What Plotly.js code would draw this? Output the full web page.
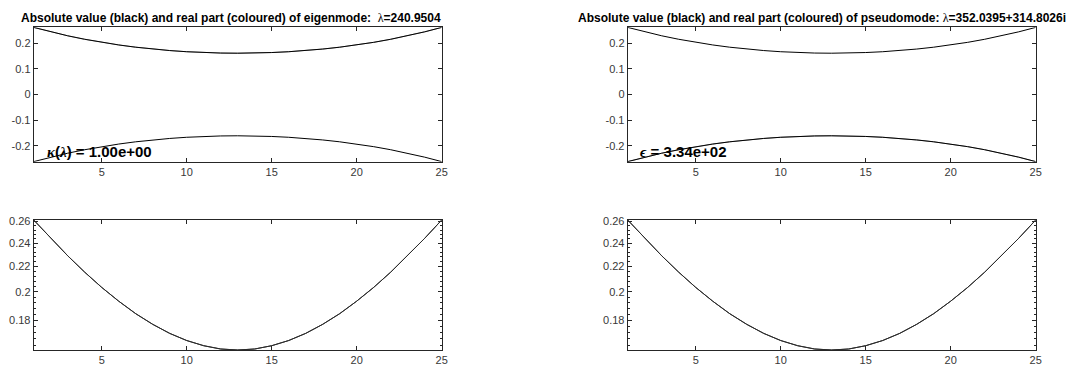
<!DOCTYPE html>
<html>
<head>
<meta charset="utf-8">
<script src="https://cdn.plot.ly/plotly-3.0.1.min.js"></script>
<style>html,body{margin:0;padding:0;background:#fff;}#chart{width:1092px;height:374px;}</style>
</head>
<body>
<div id="chart"></div>
<script>
// grid points
const xs = [1,2,3,4,5,6,7,8,9,10,11,12,13,14,15,16,17,18,19,20,21,22,23,24,25];
// eigenmode: absolute value, its negative, real part
const eigAbs = [0.2616,0.2443,0.2289,0.2153,0.2034,0.1932,0.1844,0.1772,0.1713,0.1668,0.1636,0.1616,0.1610,0.1616,0.1636,0.1668,0.1713,0.1772,0.1844,0.1932,0.2034,0.2153,0.2289,0.2443,0.2616];
const eigNegAbs = [-0.2616,-0.2443,-0.2289,-0.2153,-0.2034,-0.1932,-0.1844,-0.1772,-0.1713,-0.1668,-0.1636,-0.1616,-0.1610,-0.1616,-0.1636,-0.1668,-0.1713,-0.1772,-0.1844,-0.1932,-0.2034,-0.2153,-0.2289,-0.2443,-0.2616];
const eigReal = [0.2616,0.2443,0.2289,0.2153,0.2034,0.1932,0.1844,0.1772,0.1713,0.1668,0.1636,0.1616,0.1610,0.1616,0.1636,0.1668,0.1713,0.1772,0.1844,0.1932,0.2034,0.2153,0.2289,0.2443,0.2616];
// pseudomode
const psAbs = [0.2616,0.2443,0.2289,0.2153,0.2034,0.1932,0.1844,0.1772,0.1713,0.1668,0.1636,0.1616,0.1610,0.1616,0.1636,0.1668,0.1713,0.1772,0.1844,0.1932,0.2034,0.2153,0.2289,0.2443,0.2616];
const psNegAbs = [-0.2616,-0.2443,-0.2289,-0.2153,-0.2034,-0.1932,-0.1844,-0.1772,-0.1713,-0.1668,-0.1636,-0.1616,-0.1610,-0.1616,-0.1636,-0.1668,-0.1713,-0.1772,-0.1844,-0.1932,-0.2034,-0.2153,-0.2289,-0.2443,-0.2616];
const psReal = [-0.2616,-0.2443,-0.2289,-0.2153,-0.2034,-0.1932,-0.1844,-0.1772,-0.1713,-0.1668,-0.1636,-0.1616,-0.1610,-0.1616,-0.1636,-0.1668,-0.1713,-0.1772,-0.1844,-0.1932,-0.2034,-0.2153,-0.2289,-0.2443,-0.2616];

// ticks
const xTickVals = [5,10,15,20,25];
const xTickText = ['5','10','15','20','25'];
const topTickVals = [-0.2,-0.1,0,0.1,0.2];
const topTickText = ['-0.2','-0.1','0','0.1','0.2'];
const logTickVals = [0.18,0.2,0.22,0.24,0.26];
const logTickText = ['0.18','0.2','0.22','0.24','0.26'];
const logMinorVals = [0.164,0.168,0.172,0.176,0.184,0.188,0.192,0.196,0.204,0.208,0.212,0.216,0.224,0.228,0.232,0.236,0.244,0.248,0.252,0.256];

const serif = 'font-family:Liberation Serif;font-weight:normal';
const titleLeft = 'Absolute value (black) and real part (coloured) of eigenmode:  <span style="' + serif + '">λ</span>=240.9504';
const titleRight = 'Absolute value (black) and real part (coloured) of pseudomode: <span style="' + serif + '">λ</span>=352.0395+314.8026i';
const noteLeft = '<span style="font-family:Liberation Serif;font-style:italic">κ</span>(<span style="font-family:Liberation Serif;font-style:italic">λ</span>) = 1.00e+00';
const noteRight = '<span style="font-family:Liberation Serif;font-style:italic">ϵ</span> = 3.34e+02';

const W = 1092, H = 374;
const px = v => v / W;
const py = v => 1 - v / H;

const axCol = '#262626';
const tf = {family: 'Liberation Sans, Arial, sans-serif', size: 11, color: '#383838'};

function xAx(domain, anchor) {
  return {domain: domain, anchor: anchor, range: [1,25], tickmode: 'array', tickvals: xTickVals, ticktext: xTickText,
    ticks: 'inside', ticklen: 4, tickcolor: axCol, showline: true, linecolor: axCol, linewidth: 1, mirror: 'ticks',
    showgrid: false, zeroline: false, tickfont: tf, fixedrange: true};
}
function yTop(domain, anchor) {
  return {domain: domain, anchor: anchor, range: [-0.262,0.262], tickmode: 'array', tickvals: topTickVals, ticktext: topTickText,
    ticks: 'inside', ticklen: 4, tickcolor: axCol, showline: true, linecolor: axCol, linewidth: 1, mirror: 'ticks',
    showgrid: false, zeroline: false, tickfont: tf, fixedrange: true};
}
function yLog(domain, anchor) {
  return {domain: domain, anchor: anchor, type: 'log', range: [Math.log10(0.161), Math.log10(0.2616)],
    tickmode: 'array', tickvals: logTickVals, ticktext: logTickText,
    ticks: 'inside', ticklen: 4, tickcolor: axCol, showline: true, linecolor: axCol, linewidth: 1, mirror: 'ticks',
    showgrid: false, zeroline: false, tickfont: tf, fixedrange: true};
}
function yLogMinor(domain, anchor) {
  return {domain: domain, anchor: anchor, type: 'log', range: [Math.log10(0.161), Math.log10(0.2616)],
    tickmode: 'array', tickvals: logMinorVals, ticktext: logMinorVals.map(() => ''), showticklabels: true,
    ticks: 'inside', ticklen: 2, tickwidth: 1, tickcolor: axCol, showline: false, mirror: 'ticks',
    showgrid: false, zeroline: false, fixedrange: true};
}

const dxL = [px(33.7), px(441.7)];
const dxR = [px(627.7), px(1035.7)];
const dyT = [py(161.7), py(27.3)];
const dyB = [py(350), py(220)];

const ln = (x, y, xa, ya, c, w) => ({x: x, y: y, xaxis: xa, yaxis: ya, type: 'scatter', mode: 'lines',
  line: {color: c, width: w}, hoverinfo: 'skip', showlegend: false});

const data = [
  ln(xs, eigReal, 'x', 'y', '#8c8c8c', 1),
  ln(xs, eigAbs, 'x', 'y', '#000', 1),
  ln(xs, eigNegAbs, 'x', 'y', '#000', 1),
  ln(xs, psReal, 'x2', 'y2', '#8c8c8c', 1),
  ln(xs, psAbs, 'x2', 'y2', '#000', 1),
  ln(xs, psNegAbs, 'x2', 'y2', '#000', 1),
  // carriers for the minor-tick axes (drawn underneath, same curve)
  ln(xs, eigAbs, 'x5', 'y5', '#2b2b2b', 1),
  ln(xs, psAbs, 'x6', 'y6', '#2b2b2b', 1),
  ln(xs, eigAbs, 'x3', 'y3', '#2b2b2b', 1),
  ln(xs, psAbs, 'x4', 'y4', '#2b2b2b', 1)
];

const titleFont = {family: 'Liberation Sans, Arial, sans-serif', size: 12, color: '#000'};
const noteFont = {family: 'Liberation Sans, Arial, sans-serif', size: 15, color: '#000'};

const hiddenX = (domain, anchor) => ({domain: domain, anchor: anchor, range: [1,25], visible: false, fixedrange: true});

const layout = {
  width: W, height: H, margin: {l: 0, r: 0, t: 0, b: 0},
  paper_bgcolor: 'rgba(0,0,0,0)', plot_bgcolor: 'rgba(0,0,0,0)', showlegend: false,
  xaxis: xAx(dxL, 'y'), yaxis: yTop(dyT, 'x'),
  xaxis2: xAx(dxR, 'y2'), yaxis2: yTop(dyT, 'x2'),
  xaxis5: hiddenX(dxL, 'y5'), yaxis5: yLogMinor(dyB, 'x5'),
  xaxis6: hiddenX(dxR, 'y6'), yaxis6: yLogMinor(dyB, 'x6'),
  xaxis3: xAx(dxL, 'y3'), yaxis3: yLog(dyB, 'x3'),
  xaxis4: xAx(dxR, 'y4'), yaxis4: yLog(dyB, 'x4'),
  annotations: [
    {text: '<b>' + titleLeft + '</b>', xref: 'paper', yref: 'paper', x: px(19), y: py(18), xanchor: 'left', yanchor: 'middle', showarrow: false, font: titleFont},
    {text: '<b>' + titleRight + '</b>', xref: 'paper', yref: 'paper', x: px(576), y: py(18), xanchor: 'left', yanchor: 'middle', showarrow: false, font: titleFont},
    {text: '<b>' + noteLeft + '</b>', xref: 'paper', yref: 'paper', x: px(45), y: py(151), xanchor: 'left', yanchor: 'middle', showarrow: false, font: noteFont},
    {text: '<b>' + noteRight + '</b>', xref: 'paper', yref: 'paper', x: px(638), y: py(151), xanchor: 'left', yanchor: 'middle', showarrow: false, font: noteFont}
  ]
};

Plotly.newPlot('chart', data, layout, {staticPlot: true, displayModeBar: false});
</script>
</body>
</html>
